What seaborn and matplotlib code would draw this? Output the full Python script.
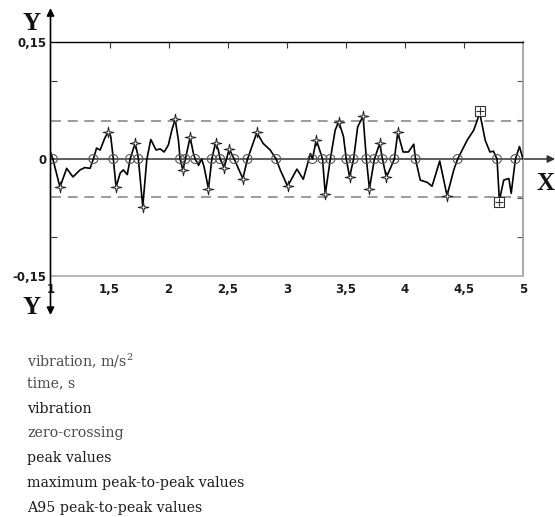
import matplotlib
matplotlib.use("Agg")
import matplotlib.pyplot as plt
from matplotlib.path import Path
import seaborn as sns
import pandas as pd

# vibration record: time (s) and acceleration (m/s^2)
time_s = [1.00, 1.02, 1.08, 1.137, 1.19, 1.25, 1.29, 1.335, 1.363, 1.39, 1.42, 1.46,
          1.49, 1.51, 1.532, 1.555, 1.59, 1.617, 1.65, 1.674, 1.716, 1.736, 1.744,
          1.781, 1.815, 1.849, 1.894, 1.928, 1.962, 1.998, 2.027, 2.055, 2.083, 2.097,
          2.12, 2.142, 2.182, 2.21, 2.225, 2.253, 2.28, 2.30, 2.337, 2.366, 2.397,
          2.42, 2.436, 2.47, 2.513, 2.555, 2.59, 2.628, 2.668, 2.747, 2.80, 2.86,
          2.91, 2.945, 3.007, 3.086, 3.14, 3.20, 3.218, 3.25, 3.303, 3.326, 3.369,
          3.41, 3.44, 3.48, 3.504, 3.532, 3.566, 3.60, 3.623, 3.646, 3.674, 3.70,
          3.742, 3.787, 3.81, 3.843, 3.877, 3.911, 3.94, 3.985, 4.03, 4.075, 4.09,
          4.13, 4.19, 4.23, 4.295, 4.357, 4.414, 4.447, 4.527, 4.583, 4.634, 4.68,
          4.72, 4.75, 4.78, 4.80, 4.837, 4.88, 4.90, 4.936, 4.97, 5.00]
vibration = [0.009, 0.0, -0.036, -0.012, -0.023, -0.014, -0.011, -0.012, 0.0, 0.014,
             0.0115, 0.027, 0.035, 0.029, 0.0, -0.036, -0.018, -0.014, -0.020, 0.0,
             0.020, 0.0075, 0.0, -0.061, -0.001, 0.025, 0.0115, 0.013, 0.009, 0.018,
             0.037, 0.051, 0.024, 0.0, -0.014, 0.0, 0.028, 0.007, 0.0, -0.008, 0.0,
             -0.010, -0.038, 0.0, 0.021, 0.012, 0.0, -0.011, 0.013, 0.0, -0.012,
             -0.025, 0.0, 0.034, 0.020, 0.0115, 0.0, -0.014, -0.035, -0.013, -0.026,
             0.007, 0.0, 0.025, 0.0, -0.045, 0.0, 0.037, 0.048, 0.029, 0.0, -0.023,
             0.0, 0.041, 0.048, 0.055, 0.0, -0.038, 0.0, 0.020, 0.0, -0.0235, -0.012,
             0.0, 0.034, 0.009, 0.009, 0.019, 0.0, -0.027, -0.030, -0.035, -0.0026,
             -0.047, -0.014, 0.0, 0.024, 0.037, 0.059, 0.024, 0.009, 0.010, 0.0,
             -0.053, -0.027, -0.025, -0.044, 0.0, 0.016, 0.0]

# zero-crossing instants
zero_t = [1.02, 1.363, 1.532, 1.674, 1.744, 2.097, 2.142, 2.225, 2.366, 2.436, 2.555,
          2.668, 2.91, 3.218, 3.303, 3.369, 3.504, 3.566, 3.674, 3.742, 3.81, 3.911,
          4.09, 4.447, 4.78, 4.936]

# peak values between crossings
peak_t = [1.08, 1.49, 1.555, 1.716, 1.781, 2.055, 2.12, 2.182, 2.337, 2.397, 2.47,
          2.513, 2.628, 2.747, 3.007, 3.25, 3.326, 3.44, 3.532, 3.646, 3.70, 3.787,
          3.843, 3.94, 4.357]
peak_v = [-0.036, 0.035, -0.036, 0.020, -0.061, 0.051, -0.014, 0.028, -0.038, 0.021,
          -0.011, 0.013, -0.025, 0.034, -0.035, 0.025, -0.045, 0.048, -0.023, 0.055,
          -0.038, 0.020, -0.0235, 0.034, -0.047]

# maximum peak-to-peak pair
max_t = [4.634, 4.80]
max_v = [0.061, -0.055]

# A95 peak-to-peak level
a95_level = 0.049

x_ticks = [1, 1.5, 2, 2.5, 3, 3.5, 4, 4.5, 5]
x_labels = ["1", "1,5", "2", "2,5", "3", "3,5", "4", "4,5", "5"]
y_ticks = [-0.15, 0, 0.15]
y_labels = ["-0,15", "0", "0,15"]

legend_lines = ["vibration, m/s$^{2}$", "time, s", "vibration", "zero-crossing",
                "peak values", "maximum peak-to-peak values", "A95 peak-to-peak values"]

sns.set_style("white")
plt.rcParams["mathtext.fontset"] = "dejavuserif"

# slender four-pointed star for peak markers
k = 0.16
star4 = Path([(0, 1), (k, k), (1, 0), (k, -k), (0, -1), (-k, -k), (-1, 0), (-k, k),
              (0, 1)], closed=True)

W, H = 555, 517
fig = plt.figure(figsize=(W / 100, H / 100), dpi=100)
ax = fig.add_axes([50.5 / W, (H - 276) / H, 472.5 / W, 234 / H])
ax.set_xlim(1, 5)
ax.set_ylim(-0.15, 0.15)

# A95 bands
for lv in (a95_level, -a95_level):
    ax.axhline(lv, color="#8a8a8a", lw=1.2, dashes=(6, 4), zorder=1)

signal = pd.DataFrame({"t": time_s, "v": vibration})
sns.lineplot(data=signal, x="t", y="v", sort=False, estimator=None, color="black",
             lw=1.2, ax=ax, zorder=3)

sns.scatterplot(x=zero_t, y=[0.0] * len(zero_t), ax=ax, marker="o", s=42,
                facecolor="none", edgecolor="#555555", linewidth=0.8, zorder=4)
sns.scatterplot(x=peak_t, y=peak_v, ax=ax, marker=star4, s=60,
                facecolor="white", edgecolor="#222222", linewidth=0.7, zorder=5)
sns.scatterplot(x=max_t, y=max_v, ax=ax, marker="s", s=42,
                facecolor="white", edgecolor="#333333", linewidth=0.8, zorder=5)
sns.scatterplot(x=max_t, y=max_v, ax=ax, marker="+", s=36,
                color="#333333", linewidth=0.8, zorder=6)

# axes frame
ax.spines["left"].set_visible(False)
ax.spines["top"].set_color("black")
ax.spines["top"].set_linewidth(1.0)
ax.spines["right"].set_color("#9a9a9a")
ax.spines["right"].set_linewidth(1.2)
ax.spines["bottom"].set_color("#b0b0b0")
ax.spines["bottom"].set_linewidth(1.3)

ax.set_xticks(x_ticks)
ax.set_xticklabels(x_labels)
ax.set_yticks(y_ticks)
ax.set_yticklabels(y_labels)
ax.set_yticks([-0.1, 0.1], minor=True)
ax.tick_params(axis="both", which="major", length=0, labelsize=8.5, pad=3,
               labelcolor="#1a1a1a")
ax.tick_params(axis="x", which="major", pad=5)
ax.tick_params(axis="y", which="minor", left=True, direction="in", length=4,
               width=0.8, color="#333333")
for lab in ax.get_xticklabels() + ax.get_yticklabels():
    lab.set_fontweight("bold")
ax.set_xlabel("")
ax.set_ylabel("")

top = ax.secondary_xaxis("top")
top.set_xticks([1.5, 2, 2.5, 3, 3.5, 4, 4.5])
top.tick_params(direction="in", length=4, width=0.8, color="#333333", labeltop=False)
top.spines["top"].set_visible(False)
right = ax.secondary_yaxis("right")
right.set_yticks([-0.1, -0.05, 0.05, 0.1])
right.tick_params(direction="in", length=4, width=0.8, color="#555555",
                  labelright=False)
right.spines["right"].set_visible(False)

# axis arrows
ax.annotate("", xy=(0, 1.145), xytext=(0, -0.167), xycoords="axes fraction",
            arrowprops=dict(arrowstyle="<|-|>", color="black", lw=1.2,
                            mutation_scale=11, shrinkA=0, shrinkB=0),
            annotation_clip=False, zorder=6)
ax.annotate("", xy=(1.068, 0), xytext=(0, 0), xycoords=("axes fraction", "data"),
            arrowprops=dict(arrowstyle="-|>", color="#333333", lw=1.1,
                            mutation_scale=11, shrinkA=0, shrinkB=0),
            annotation_clip=False, zorder=2)

serif_bold = dict(family="Liberation Serif", fontweight="bold", fontsize=18,
                  color="#111111")
fig.text(32 / W, 1 - 23 / H, "Y", ha="center", va="center", **serif_bold)
fig.text(32 / W, 1 - 307 / H, "Y", ha="center", va="center", **serif_bold)
fig.text(545.5 / W, 1 - 183 / H, "X", ha="center", va="center", **serif_bold)

# description lines
baselines = [366, 387, 413, 437, 462, 487, 512]
colors = ["#4a4a4a", "#4a4a4a", "#1a1a1a", "#4a4a4a", "#1a1a1a", "#1a1a1a", "#1a1a1a"]
for txt, yb, c in zip(legend_lines, baselines, colors):
    fig.text(27 / W, 1 - yb / H, txt, ha="left", va="baseline", family="DejaVu Serif",
             fontsize=10.2, color=c)

fig.savefig("out.png", dpi=100)
